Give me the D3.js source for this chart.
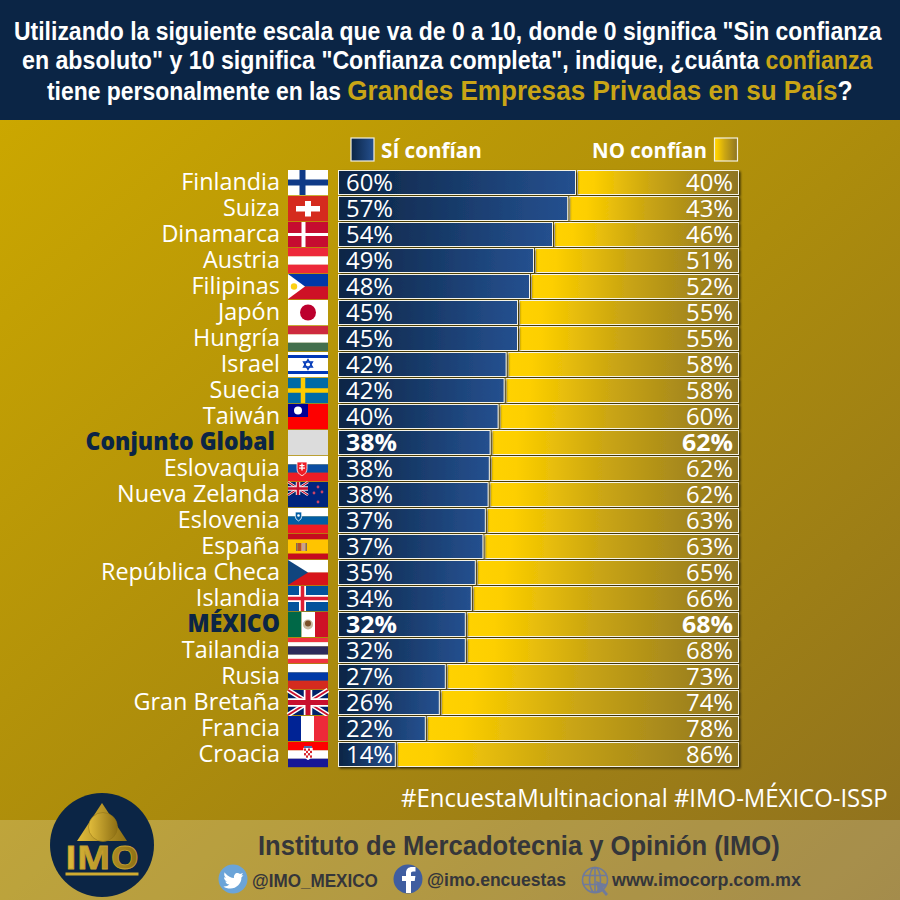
<!DOCTYPE html>
<html>
<head>
<meta charset="utf-8">
<script src="https://cdn.jsdelivr.net/npm/d3@7"></script>
<style>
  html, body { margin: 0; padding: 0; background: #fff; }
  svg { display: block; }
  text { font-family: "Open Sans", sans-serif; }
  .title { font-family: "Liberation Sans", Arial, sans-serif; font-weight: 700; }
  .foot { font-family: "Liberation Sans", Arial, sans-serif; font-weight: 700; fill: #35363a; }
</style>
</head>
<body>
<svg id="chart" width="900" height="900"></svg>
<script>
const countries = ["Finlandia", "Suiza", "Dinamarca", "Austria", "Filipinas", "Japón", "Hungría", "Israel", "Suecia", "Taiwán", "Conjunto Global", "Eslovaquia", "Nueva Zelanda", "Eslovenia", "España", "República Checa", "Islandia", "MÉXICO", "Tailandia", "Rusia", "Gran Bretaña", "Francia", "Croacia"];
const siValues = [59.25, 57.3, 53.5, 48.75, 47.75, 44.75, 44.75, 41.9, 41.4, 39.9, 37.9, 37.7, 37.4, 36.7, 36.1, 34.2, 33.2, 31.7, 31.7, 26.7, 25.2, 21.7, 14.2];
const noValues = [40.75, 42.7, 46.5, 51.25, 52.25, 55.25, 55.25, 58.1, 58.6, 60.1, 62.1, 62.3, 62.6, 63.3, 63.9, 65.8, 66.8, 68.3, 68.3, 73.3, 74.8, 78.3, 85.8];
const siLabels = ["60%", "57%", "54%", "49%", "48%", "45%", "45%", "42%", "42%", "40%", "38%", "38%", "38%", "37%", "37%", "35%", "34%", "32%", "32%", "27%", "26%", "22%", "14%"];
const noLabels = ["40%", "43%", "46%", "51%", "52%", "55%", "55%", "58%", "58%", "60%", "62%", "62%", "62%", "63%", "63%", "65%", "66%", "68%", "68%", "73%", "74%", "78%", "86%"];
const highlighted = ["Conjunto Global", "MÉXICO"];

const svg = d3.select("#chart");
const defs = svg.append("defs");
const navy = "#0b2545";

function linear(id, stops, x2, y2) {
  const g = defs.append("linearGradient").attr("id", id)
    .attr("x1", 0).attr("y1", 0).attr("x2", x2).attr("y2", y2);
  stops.forEach(s => g.append("stop").attr("offset", s[0]).attr("stop-color", s[1]));
}
linear("bgGrad", [[0, "#cba700"], [0.5, "#ac8c0c"], [1, "#8e7020"]], 1, 1);
linear("blueGrad", [[0, "#0b2545"], [1, "#25508f"]], 1, 0);
linear("yellowGrad", [[0, "#ffd200"], [0.1, "#fdcf00"], [0.45, "#cba612"], [1, "#8d7423"]], 1, 0);
linear("logoGold", [[0, "#e2bd3c"], [1, "#8d6f14"]], 1, 0);

const shadow = defs.append("filter").attr("id", "barShadow")
  .attr("x", "-5%").attr("y", "-20%").attr("width", "110%").attr("height", "150%");
shadow.append("feDropShadow").attr("dx", 1.5).attr("dy", 1.5).attr("stdDeviation", 0.8)
  .attr("flood-color", "#000").attr("flood-opacity", 0.7);

// background, header and footer band
svg.append("rect").attr("y", 120).attr("width", 900).attr("height", 780).attr("fill", "url(#bgGrad)");
svg.append("rect").attr("width", 900).attr("height", 120).attr("fill", navy);
svg.append("rect").attr("y", 820).attr("width", 900).attr("height", 80).attr("fill", "#fff").attr("opacity", 0.2);

// squeezes a text horizontally so it fills the width it has in the original
function fit(sel, left, width) {
  const w = sel.node().getComputedTextLength();
  sel.attr("text-anchor", "start").attr("x", 0)
    .attr("transform", `translate(${left},${sel.attr("y")}) scale(${width / w},1)`)
    .attr("y", 0);
  return sel;
}

const gold = "#c9a516";
const titleLines = [
  { y: 40, left: 14, width: 868, parts: [["Utilizando la siguiente escala que va de 0 a 10, donde 0 significa \"Sin confianza", "#fff", 25]] },
  { y: 69, left: 22, width: 851, parts: [["en absoluto\" y 10 significa \"Confianza completa\", indique, ¿cuánta ", "#fff", 25], ["confianza", gold, 25]] },
  { y: 100, left: 47, width: 806, parts: [["tiene personalmente en las ", "#fff", 25], ["Grandes Empresas Privadas en su País", gold, 28.5], ["?", "#fff", 27]] }
];
titleLines.forEach(line => {
  const t = svg.append("text").attr("class", "title").attr("y", line.y);
  line.parts.forEach(p => t.append("tspan").text(p[0]).attr("fill", p[1]).attr("font-size", p[2]));
  fit(t, line.left, line.width);
});

// scales
const x = d3.scaleLinear().domain([0, 100]).range([338.5, 738.5]);
const y = d3.scaleBand().domain(countries).range([170.5, 766.5]).paddingInner(2 / 26);
const labelFont = 24;

// legend
svg.append("rect").attr("x", 351).attr("y", 138).attr("width", 23).attr("height", 23)
  .attr("fill", "url(#blueGrad)").attr("stroke", "#f4f0df").attr("stroke-width", 1.2);
svg.append("rect").attr("x", 714.5).attr("y", 138).attr("width", 23).attr("height", 23)
  .attr("fill", "url(#yellowGrad)").attr("stroke", "#f4f0df").attr("stroke-width", 1.2);
fit(svg.append("text").text("SÍ confían").attr("y", 158).attr("font-size", 22).attr("font-weight", 700).attr("fill", "#fff"), 381, 101);
fit(svg.append("text").text("NO confían").attr("y", 158).attr("font-size", 22).attr("font-weight", 700).attr("fill", "#fff"), 592, 115);

// bars
const rows = svg.append("g").selectAll("g").data(countries).join("g")
  .attr("transform", d => `translate(0,${y(d)})`);

rows.append("rect").attr("class", "no")
  .attr("x", (d, i) => x(siValues[i]) + 2)
  .attr("width", (d, i) => x(siValues[i] + noValues[i]) - x(siValues[i]) - 2)
  .attr("height", y.bandwidth())
  .attr("fill", "url(#yellowGrad)").attr("stroke", "#f5f3e6").attr("stroke-width", 1)
  .attr("filter", "url(#barShadow)");
rows.append("rect").attr("class", "si")
  .attr("x", x(0))
  .attr("width", (d, i) => x(siValues[i]) - x(0))
  .attr("height", y.bandwidth())
  .attr("fill", "url(#blueGrad)").attr("stroke", "#f5f3e6").attr("stroke-width", 1)
  .attr("filter", "url(#barShadow)");

rows.append("text").text((d, i) => siLabels[i])
  .attr("x", x(0) + 7.5).attr("y", 20)
  .attr("font-size", labelFont).attr("fill", "#fff")
  .attr("font-weight", d => highlighted.includes(d) ? 700 : 400)
  .attr("textLength", d => highlighted.includes(d) ? 51 : 47).attr("lengthAdjust", "spacingAndGlyphs");
rows.append("text").text((d, i) => noLabels[i])
  .attr("x", x(100) - 5.5).attr("y", 20).attr("text-anchor", "end")
  .attr("font-size", labelFont).attr("fill", "#fff")
  .attr("font-weight", d => highlighted.includes(d) ? 700 : 400)
  .attr("textLength", d => highlighted.includes(d) ? 51 : 47).attr("lengthAdjust", "spacingAndGlyphs");

// country names, Open Sans runs a bit wider than the original face
rows.append("text").text(d => d)
  .attr("font-size", labelFont)
  .attr("font-weight", d => highlighted.includes(d) ? 800 : 400)
  .attr("fill", d => highlighted.includes(d) ? navy : "#fff")
  .attr("text-anchor", "end")
  .attr("transform", d => `translate(${d === "Conjunto Global" ? 275 : 280},19.5) scale(${highlighted.includes(d) ? 0.955 : 0.975},1)`);

// flags, 40 x 25 in their own coordinates
const FW = 40, FH = 25;
function bands(g, colors, sizes) {
  let top = 0;
  const total = sizes ? d3.sum(sizes) : colors.length;
  colors.forEach((c, i) => {
    const h = (sizes ? sizes[i] : 1) / total * FH;
    g.append("rect").attr("y", top).attr("width", FW).attr("height", h + 0.2).attr("fill", c);
    top += h;
  });
}
function vbands(g, colors, sizes) {
  let left = 0;
  const total = sizes ? d3.sum(sizes) : colors.length;
  colors.forEach((c, i) => {
    const w = (sizes ? sizes[i] : 1) / total * FW;
    g.append("rect").attr("x", left).attr("width", w).attr("height", FH).attr("fill", c);
    left += w;
  });
}
function cross(g, c, cx, cy, w) {
  g.append("rect").attr("x", cx - w / 2).attr("width", w).attr("height", FH).attr("fill", c);
  g.append("rect").attr("y", cy - w / 2).attr("width", FW).attr("height", w).attr("fill", c);
}
function poly(g, pts, c) { return g.append("polygon").attr("points", pts.join(" ")).attr("fill", c); }
function dot(g, cx, cy, r, c) { return g.append("circle").attr("cx", cx).attr("cy", cy).attr("r", r).attr("fill", c); }
function box(g, bx, by, w, h, c) { return g.append("rect").attr("x", bx).attr("y", by).attr("width", w).attr("height", h).attr("fill", c); }
function shield(g, cx, top, w, c) {
  g.append("path").attr("d", `M${cx - w / 2},${top}h${w}v${w * 0.65}q0,${w * 0.5} ${-w / 2},${w * 0.72}q${-w / 2},${-w * 0.22} ${-w / 2},${-w * 0.72}z`)
    .attr("fill", c).attr("stroke", "#fff").attr("stroke-width", 0.8);
}
function union(g, w, h) {
  g.append("rect").attr("width", w).attr("height", h).attr("fill", "#012169");
  const sw = h * 0.2;
  g.append("path").attr("d", `M0,0L${w},${h}M${w},0L0,${h}`).attr("stroke", "#fff").attr("stroke-width", sw);
  g.append("path").attr("d", `M0,0L${w},${h}M${w},0L0,${h}`).attr("stroke", "#c8102e").attr("stroke-width", sw * 0.4);
  box(g, w / 2 - sw * 0.85, 0, sw * 1.7, h, "#fff");
  box(g, 0, h / 2 - sw * 0.85, w, sw * 1.7, "#fff");
  box(g, w / 2 - sw * 0.5, 0, sw, h, "#c8102e");
  box(g, 0, h / 2 - sw * 0.5, w, sw, "#c8102e");
}
const flags = {
  "Finlandia": g => { bands(g, ["#fff"]); cross(g, "#0f3a87", 14.5, 12.5, 6); },
  "Suiza": g => {
    bands(g, ["#d52b1e"]);
    box(g, 8, 10, 24, 5.5, "#fff");
    box(g, 17, 5, 6, 15.5, "#fff");
  },
  "Dinamarca": g => { bands(g, ["#c60c30"]); box(g, 13.5, 0, 4, FH, "#fff"); box(g, 0, 11, FW, 3, "#fff"); },
  "Austria": g => bands(g, ["#ed2939", "#fff", "#ed2939"]),
  "Filipinas": g => {
    bands(g, ["#0038a8", "#ce1126"]);
    poly(g, [[0, 0], [17, 12.5], [0, 25]], "#fff");
    dot(g, 6, 12.5, 3.2, "#fcd116");
  },
  "Japón": g => { bands(g, ["#fff"]); dot(g, 20, 12.5, 8, "#bc002d"); },
  "Hungría": g => bands(g, ["#cd2a3e", "#fff", "#436f4d"]),
  "Israel": g => {
    bands(g, ["#fff", "#0038b8", "#fff", "#0038b8", "#fff"], [3, 3, 13, 3, 3]);
    poly(g, [[20, 7.5], [24.5, 15], [15.5, 15]], "none").attr("stroke", "#0038b8").attr("stroke-width", 1.3);
    poly(g, [[20, 17.5], [24.5, 10], [15.5, 10]], "none").attr("stroke", "#0038b8").attr("stroke-width", 1.3);
  },
  "Suecia": g => { bands(g, ["#006aa7"]); cross(g, "#fecc00", 15, 12.5, 4.5); },
  "Taiwán": g => {
    bands(g, ["#fe0000"]);
    box(g, 0, 0, 20, 13, "#000095");
    dot(g, 10, 6.5, 4, "#fff");
  },
  "Conjunto Global": g => bands(g, ["#dcdcdc"]),
  "Eslovaquia": g => {
    bands(g, ["#fff", "#0b4ea2", "#ee1c25"]);
    shield(g, 14, 6, 10, "#ee1c25");
    box(g, 13.3, 7.5, 1.4, 7, "#fff");
    box(g, 11.5, 9, 5, 1.2, "#fff");
    box(g, 11, 11.5, 6, 1.2, "#fff");
  },
  "Nueva Zelanda": g => {
    bands(g, ["#00247d"]);
    union(g, 20, 13);
    [[30, 5], [34, 10], [26, 11], [30, 20]].forEach(s => dot(g, s[0], s[1], 1.4, "#cc4466"));
  },
  "Eslovenia": g => { bands(g, ["#fff", "#005da4", "#ed1c24"]); shield(g, 10.5, 4, 6.5, "#005da4"); dot(g, 10.5, 7.5, 1.3, "#fff"); },
  "España": g => {
    bands(g, ["#c60b1e", "#ffc400", "#c60b1e"], [1, 2.6, 1]);
    box(g, 9.5, 9, 4, 8, "#b5502a");
    box(g, 13.5, 9, 4, 8, "#c9a090");
    box(g, 8, 9, 1.5, 8, "#7f6a5a");
    box(g, 17.5, 9, 1.5, 8, "#7f6a5a");
  },
  "República Checa": g => {
    bands(g, ["#fff", "#d7141a"]);
    poly(g, [[0, 0], [20, 12.5], [0, 25]], "#11457e");
  },
  "Islandia": g => { bands(g, ["#02529c"]); cross(g, "#fff", 14.5, 12.5, 7); cross(g, "#dc1e35", 14.5, 12.5, 3.5); },
  "MÉXICO": g => {
    vbands(g, ["#006847", "#fff", "#ce1126"], [13.5, 13.5, 13]);
    dot(g, 20, 12.5, 5, "#c9b9a0");
    dot(g, 20, 11.5, 3, "#7a4f28");
  },
  "Tailandia": g => bands(g, ["#ef3340", "#fff", "#2d2a5a", "#fff", "#ef3340"], [1, 1, 2, 1, 1]),
  "Rusia": g => bands(g, ["#fff", "#0039a6", "#d52b1e"]),
  "Gran Bretaña": g => union(g, FW, FH),
  "Francia": g => vbands(g, ["#002395", "#fff", "#ed2939"], [13, 13, 14]),
  "Croacia": g => {
    bands(g, ["#fe0000", "#fff", "#171796"]);
    shield(g, 20, 6, 8.5, "#fff");
    d3.range(4).forEach(r => d3.range(4).forEach(c => {
      if ((r + c) % 2 === 0) box(g, 16 + c * 2, 6.5 + r * 2.3, 2, 2.3, "#d8232a");
    }));
    box(g, 16, 4, 8, 2, "#4a6fb0");
  }
};
const flagGroups = rows.append("g").attr("transform", "translate(288,-0.5)");
flagGroups.each(function(d) { flags[d](d3.select(this)); });

// hashtag line
fit(svg.append("text").text("#EncuestaMultinacional #IMO-MÉXICO-ISSP")
  .attr("y", 807).attr("font-size", 25).attr("fill", "#fff"), 401, 487);

// logo
const logo = svg.append("g").attr("transform", "translate(102,845)");
logo.append("circle").attr("r", 52).attr("fill", navy);
poly(logo, [[0, -42], [25, -4], [-25, -4]], "url(#logoGold)");
logo.append("circle").attr("cx", 1).attr("cy", -18).attr("r", 14.5).attr("fill", "url(#logoGold)").attr("stroke", "#8d6f14").attr("stroke-width", 0.5);
logo.append("text").text("IMO").attr("text-anchor", "middle").attr("y", 24)
  .attr("font-family", "Liberation Sans").attr("font-weight", 700).attr("font-size", 33)
  .attr("fill", "url(#logoGold)").attr("stroke", "#c7a22e").attr("stroke-width", 0.8)
  .attr("textLength", 74).attr("lengthAdjust", "spacingAndGlyphs");
logo.append("rect").attr("x", -36.5).attr("y", 27.5).attr("width", 73).attr("height", 3).attr("fill", "#d0ab30");

// footer
fit(svg.append("text").attr("class", "foot").text("Instituto de Mercadotecnia y Opinión (IMO)").attr("y", 855).attr("font-size", 28), 258, 522);
fit(svg.append("text").attr("class", "foot").text("@IMO_MEXICO").attr("y", 887).attr("font-size", 18), 252, 126);
fit(svg.append("text").attr("class", "foot").text("@imo.encuestas").attr("y", 886).attr("font-size", 18), 427, 139);
fit(svg.append("text").attr("class", "foot").text("www.imocorp.com.mx").attr("y", 886).attr("font-size", 18), 612, 189);

// social icons
const tw = svg.append("g").attr("transform", "translate(233,879)");
tw.append("circle").attr("r", 14.5).attr("fill", "#6ba4d8");
tw.append("path").attr("d", "M-8,-6c3,3.5 6,5 9,5c-.6,-4 3,-6.5 6,-4l3,-1l-1.6,2.6l2,-.4l-2,2.2c.3,6 -5,11 -11,11c-3,0 -5,-.6 -7,-2c2.4,.2 4.4,-.4 6,-1.8c-2,0 -3.4,-1 -4,-3h2c-2,-.6 -3.4,-2.4 -3.4,-4.4l2,.6c-2,-1.6 -2.4,-3.6 -1,-5.8z").attr("fill", "#fff");
const fb = svg.append("g").attr("transform", "translate(408,879)");
fb.append("circle").attr("r", 14.5).attr("fill", "#3f5da0");
fb.append("path").attr("d", "M-2,14v-12h-4v-5h4v-3c0,-4 2.4,-6 6,-6h3.5v4.6h-2.4c-1.6,0 -2.1,.9 -2.1,2.2v2.2h4.4l-.7,5h-3.7v12z").attr("fill", "#fff");
const web = svg.append("g").attr("transform", "translate(595,880)")
  .attr("fill", "none").attr("stroke", "#6f7a9c").attr("stroke-width", 1.6);
web.append("circle").attr("r", 12.5);
web.append("ellipse").attr("rx", 5.5).attr("ry", 12.5);
web.append("path").attr("d", "M-12,-4.5H12M-12,4.5H12M0,-12.5V12.5");
poly(web, [[1, 1], [12, 5], [8, 8], [13, 14], [11, 16], [6, 10], [3, 12]], "#6f7a9c").attr("stroke", "none");
</script>
</body>
</html>
